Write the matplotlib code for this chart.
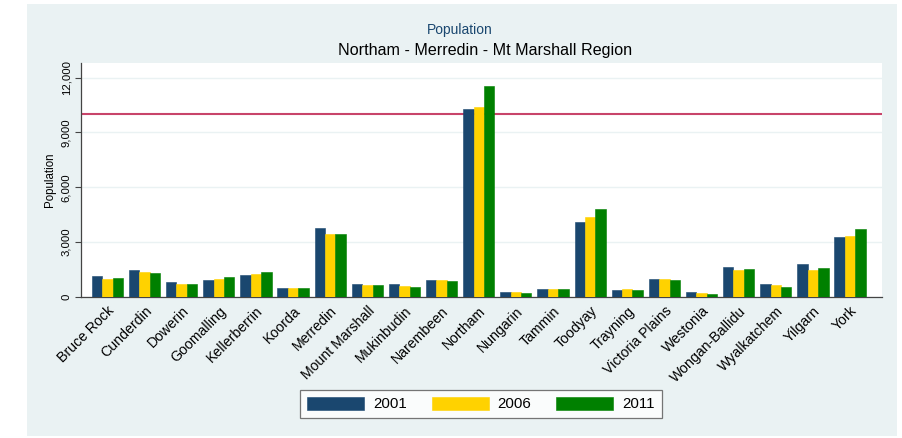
import numpy as np
from matplotlib import pyplot as plt
from matplotlib.patches import Rectangle

plt.rcParams['font.family'] = ['Liberation Sans', 'DejaVu Sans']

shires = ["Bruce Rock", "Cunderdin", "Dowerin", "Goomalling", "Kellerberrin",
          "Koorda", "Merredin", "Mount Marshall", "Mukinbudin", "Narembeen",
          "Northam", "Nungarin", "Tammin", "Toodyay", "Trayning",
          "Victoria Plains", "Westonia", "Wongan-Ballidu", "Wyalkatchem",
          "Yilgarn", "York"]
pop_2001 = [1134, 1482, 823, 951, 1226, 476, 3770, 695, 695, 951,
            10280, 275, 458, 4099, 403, 970, 275, 1629, 714, 1830, 3276]
pop_2006 = [1006, 1354, 732, 1006, 1263, 476, 3422, 640, 604, 933,
            10370, 275, 458, 4392, 458, 970, 238, 1500, 640, 1500, 3312]
pop_2011 = [1061, 1299, 732, 1098, 1354, 476, 3422, 640, 567, 878,
            11550, 220, 458, 4795, 403, 915, 183, 1537, 530, 1574, 3697]
years = ["2001", "2006", "2011"]
ref_level = 10000
yticks = [0, 3000, 6000, 9000, 12000]

colors = ["#1a476f", "#ffd200", "#008000"]
bg = "#eaf2f3"

fig = plt.figure(figsize=(9.03, 4.38), dpi=100)
fig.patch.set_facecolor("white")
# stata-like light blue background panel
fig.patches.append(Rectangle((27 / 903, 1 - 436 / 438), 870 / 903, 432 / 438,
                             transform=fig.transFigure, facecolor=bg,
                             edgecolor="none", zorder=-10))

ax = fig.add_axes([81 / 903, 1 - 297 / 438, 801 / 903, 234 / 438])
ax.set_facecolor("white")

x = np.arange(len(shires))
w = 0.28
for i, (vals, c, lab) in enumerate(zip([pop_2001, pop_2006, pop_2011], colors, years)):
    ax.bar(x + (i - 1) * w, vals, width=w, color=c, edgecolor=c,
           linewidth=0.4, label=lab, zorder=3)

ax.axhline(ref_level, color="#c8446a", linewidth=1.5, zorder=2)

ax.set_xlim(-0.71, len(shires) - 1 + 0.86)
ax.set_ylim(0, 12800)
ax.set_yticks(yticks)
ax.set_yticklabels([f"{v:,}" for v in yticks], rotation=90, va="center",
                   fontsize=8.2)
ax.yaxis.grid(True, color=bg, linewidth=1.0, zorder=0)
ax.tick_params(axis="y", length=4, width=0.8, color="#444444", pad=3)
ax.set_ylabel("Population", fontsize=8.3, labelpad=4)

ax.set_xticks(x)
ax.set_xticklabels(shires, rotation=45, ha="right", rotation_mode="anchor",
                   fontsize=10.2)
ax.tick_params(axis="x", length=0, pad=5)

for s in ["top", "right"]:
    ax.spines[s].set_visible(False)
for s in ["left", "bottom"]:
    ax.spines[s].set_color("#444444")
    ax.spines[s].set_linewidth(0.9)

fig.text(0.5095, 1 - 30 / 438, "Population", ha="center", va="center",
         fontsize=10, color="#1a476f")
fig.text(0.5376, 1 - 50 / 438, "Northam - Merredin - Mt Marshall Region",
         ha="center", va="center", fontsize=11.6, color="black")

leg = fig.legend(loc="center", bbox_to_anchor=(481 / 903, 1 - 404 / 438),
                 ncol=3, frameon=True, fancybox=False, fontsize=10.8,
                 handlelength=3.8, handleheight=1.0, handletextpad=0.6,
                 columnspacing=1.65, borderpad=0.45, borderaxespad=0)
leg.get_frame().set_edgecolor("#555555")
leg.get_frame().set_linewidth(0.9)

fig.savefig("out.png", dpi=100)
